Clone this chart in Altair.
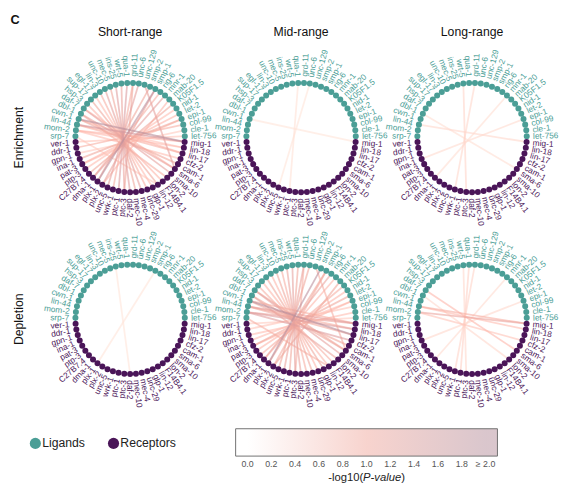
import altair as alt
import pandas as pd

FONT = "Liberation Sans"
TEAL = "#4b9e96"
PURPLE = "#4a1558"
EDGE_COLORS = ["#ffffff", "#f0a89d", "#b58e9b"]

# ---------------- data ----------------
ligands = ["srp-7", "mom-2", "lin-44", "cwn-1", "dbl-1", "daf-7", "hsp-3", "sup-17",
           "egl-17", "lin-3", "unc-10", "mec-5", "ins-25", "wrt-5", "qua-1", "grd-11",
           "unc-6", "unc-129", "smp-2", "smp-1", "rig-6", "mnr-1", "mab-20", "K05F1.5",
           "nid-1", "let-2", "epi-1", "col-99", "cle-1", "let-756"]
receptors = ["mig-1", "lin-18", "lin-17", "cfz-2", "cam-1", "sma-6", "sma-10", "lon-2",
             "F14B4.1", "lin-12", "glp-1", "unc-29", "mec-4", "mec-10", "daf-2", "ptc-3",
             "ptc-1", "wrk-1", "unc-5", "plx-2", "plx-1", "dma-1", "C27B7.4", "ptp-3",
             "pat-3", "ina-1", "gpn-1", "ddr-1", "ver-1"]

ranges = ["Short-range", "Mid-range", "Long-range"]
tests = ["Enrichment", "Depletion"]

pair_ligand = ["lin-44", "lin-44", "lin-44", "mom-2", "mom-2", "cwn-1", "cwn-1", "cwn-1",
               "dbl-1", "dbl-1", "daf-7", "hsp-3", "sup-17", "egl-17", "lin-3", "unc-10",
               "mec-5", "ins-25", "wrt-5", "qua-1", "grd-11", "grd-11", "unc-6", "unc-129",
               "smp-2", "smp-1", "smp-1", "rig-6", "mnr-1", "mab-20", "K05F1.5", "nid-1",
               "let-2", "epi-1", "epi-1", "col-99", "cle-1", "let-756", "srp-7", "mom-2",
               "daf-7"]
pair_receptor = ["mig-1", "lin-17", "lin-18", "mig-1", "cfz-2", "mig-1", "cam-1", "lin-17",
                 "sma-6", "lon-2", "sma-10", "F14B4.1", "lin-12", "glp-1", "unc-29", "mec-4",
                 "mec-10", "daf-2", "ptc-3", "ptc-1", "ptc-3", "wrk-1", "unc-5", "sma-6",
                 "plx-1", "plx-1", "plx-2", "dma-1", "dma-1", "plx-2", "C27B7.4", "ptp-3",
                 "pat-3", "ina-1", "pat-3", "ddr-1", "gpn-1", "ver-1", "lin-12", "lin-18",
                 "sma-6"]

short_enrich = [1.5, 0.9, 0.6, 0.8, 0.7, 2.0, 1.0, 0.8, 1.1, 0.9, 1.2, 0.8, 1.0, 0.7, 0.9, 1.2,
                1.0, 1.3, 1.1, 1.4, 1.0, 0.9, 1.2, 1.2, 1.0, 1.9, 1.1, 0.9, 1.2, 0.8, 1.0, 0.7,
                0.8, 1.0, 0.6, 0.9, 0.5, 0.6, 0.5, 0.7, 0.8]
mid_enrich = [0, 0, 0, 0, 0, 0.1, 0, 0, 0, 0, 0, 0, 0, 0, 0, 0,
              0, 0, 0, 0.15, 0, 0, 0.1, 0, 0, 0, 0, 0, 0, 0, 0, 0,
              0, 0, 0, 0, 0, 0, 0, 0, 0]
long_enrich = [0.3, 0, 0, 0, 0, 0, 0, 0, 0.2, 0, 0, 0, 0, 0, 0, 0,
               0, 0, 0.35, 0, 0, 0.3, 0, 0, 0, 0, 0, 0, 0.2, 0, 0, 0,
               0, 0.25, 0, 0, 0, 0, 0, 0, 0]
short_deplete = [0, 0, 0, 0, 0, 0, 0, 0, 0, 0, 0, 0, 0, 0, 0, 0,
                 0, 0.1, 0, 0, 0, 0, 0, 0, 0, 0.1, 0, 0, 0, 0, 0, 0,
                 0, 0, 0, 0, 0, 0, 0, 0, 0]
mid_deplete = [1.2, 1.0, 0.9, 1.1, 1.3, 0.9, 1.0, 2.0, 1.0, 1.1, 1.2, 0.9, 0.8, 1.0, 0.8, 1.0,
               0.9, 1.1, 1.2, 1.0, 0.9, 1.1, 1.0, 0.9, 1.9, 1.0, 0.9, 1.1, 0.8, 1.0, 0.9, 0.8,
               1.0, 0.7, 0.8, 0.6, 0.7, 0.5, 0.9, 1.3, 1.0]
long_deplete = [0.9, 0, 0.7, 1.1, 0.6, 0, 0, 0, 0, 0.3, 0, 0, 0, 0, 0, 0,
                0, 0, 0.3, 0.4, 0, 0.35, 0, 0, 0, 0, 0, 0, 0.25, 0, 0, 0,
                0, 0.3, 0, 0, 0, 0, 0, 0, 0.8, 0]

legend_labels = ["Ligands", "Receptors"]
cbar_ticks = [0.0, 0.2, 0.4, 0.6, 0.8, 1.0, 1.2, 1.4, 1.6, 1.8, 2.0]
cbar_tick_labels = ["0.0", "0.2", "0.4", "0.6", "0.8", "1.0", "1.2", "1.4", "1.6", "1.8", "\u2265 2.0"]
cbar_title_parts = ["-log10(", "P-value", ")"]

panel_values = {
    ("Enrichment", "Short-range"): short_enrich,
    ("Enrichment", "Mid-range"): mid_enrich,
    ("Enrichment", "Long-range"): long_enrich,
    ("Depletion", "Short-range"): short_deplete,
    ("Depletion", "Mid-range"): mid_deplete,
    ("Depletion", "Long-range"): long_deplete,
}

# ---------------- table ----------------
nodes = ligands + receptors
groups = ["Ligand"] * len(ligands) + ["Receptor"] * len(receptors)
rows = []
for t in tests:
    for r in ranges:
        vals = panel_values[(t, r)]
        edge_rows = []
        for lig, rec, v in zip(pair_ligand, pair_receptor, vals):
            if v > 0:
                edge_rows.append(dict(kind="edge", test=t, range=r, g=ligands.index(lig),
                                      g2=len(ligands) + receptors.index(rec), value=min(v, 2.0),
                                      name="", grp=""))
        edge_rows.sort(key=lambda d: d["value"])
        rows.extend(edge_rows)
        for g, (nm, gr) in enumerate(zip(nodes, groups)):
            rows.append(dict(kind="node", test=t, range=r, g=g, g2=g, value=0, name=nm, grp=gr))
df = pd.DataFrame(rows)

N = len(nodes)
STEP = 360.0 / N
OFFSET = 90 + (len(ligands) - 1) / 2 * STEP
RT = 1.115

W, H = 150, 160
PX = 56.0
xr, yr = W / 2 / PX, H / 2 / PX
xs = alt.Scale(domain=[-xr, xr], nice=False, zero=False)
ys = alt.Scale(domain=[-yr, yr], nice=False, zero=False)
grp_scale = alt.Scale(domain=["Ligand", "Receptor"], range=[TEAL, PURPLE])

base = alt.Chart()

edges = (
    base.transform_filter("datum.kind == 'edge'")
    .transform_calculate(a1=f"({OFFSET} - datum.g*{STEP})*PI/180")
    .transform_calculate(a2=f"({OFFSET} - datum.g2*{STEP})*PI/180")
    .transform_calculate(x1="cos(datum.a1)")
    .transform_calculate(y1="sin(datum.a1)")
    .transform_calculate(x2="cos(datum.a2)")
    .transform_calculate(y2="sin(datum.a2)")
    .mark_rule(strokeWidth=1.8, opacity=0.6)
    .encode(
        x=alt.X("x1:Q", scale=xs, axis=None),
        y=alt.Y("y1:Q", scale=ys, axis=None),
        x2="x2:Q",
        y2="y2:Q",
        stroke=alt.Stroke("value:Q", scale=alt.Scale(domain=[0, 1, 2], range=EDGE_COLORS, clamp=True),
                          legend=None),
    )
)

nodes_base = (
    base.transform_filter("datum.kind == 'node'")
    .transform_calculate(adeg=f"{OFFSET} - datum.g*{STEP}")
    .transform_calculate(a="datum.adeg*PI/180")
    .transform_calculate(x="cos(datum.a)")
    .transform_calculate(y="sin(datum.a)")
    .transform_calculate(xt=f"{RT}*cos(datum.a)")
    .transform_calculate(yt=f"{RT}*sin(datum.a)")
)

dots = nodes_base.mark_circle(size=38, opacity=1).encode(
    x=alt.X("x:Q", scale=xs, axis=None),
    y=alt.Y("y:Q", scale=ys, axis=None),
    color=alt.Color("grp:N", scale=grp_scale, legend=None),
)

text_r = (
    nodes_base.transform_filter("cos(datum.a) >= -0.000001")
    .transform_calculate(ang="((-datum.adeg) % 360 + 360) % 360")
    .mark_text(align="left", baseline="middle", fontSize=8.5, font=FONT)
    .encode(
        x=alt.X("xt:Q", scale=xs, axis=None),
        y=alt.Y("yt:Q", scale=ys, axis=None),
        text="name:N",
        angle=alt.Angle("ang:Q", scale=None),
        color=alt.Color("grp:N", scale=grp_scale, legend=None),
    )
)
text_l = (
    nodes_base.transform_filter("cos(datum.a) < -0.000001")
    .transform_calculate(ang="((180 - datum.adeg) % 360 + 360) % 360")
    .mark_text(align="right", baseline="middle", fontSize=8.5, font=FONT)
    .encode(
        x=alt.X("xt:Q", scale=xs, axis=None),
        y=alt.Y("yt:Q", scale=ys, axis=None),
        text="name:N",
        angle=alt.Angle("ang:Q", scale=None),
        color=alt.Color("grp:N", scale=grp_scale, legend=None),
    )
)

top = (
    alt.layer(edges, dots, text_r, text_l, data=df)
    .properties(width=W, height=H)
    .facet(
        row=alt.Row("test:N", sort=tests, title=None,
                    header=alt.Header(labelAngle=-90, labelOrient="left", labelFontSize=12.5,
                                      labelFont=FONT, labelPadding=26, labelColor="#111")),
        column=alt.Column("range:N", sort=ranges, title=None,
                          header=alt.Header(labelFontSize=12.5, labelFont=FONT, labelPadding=22,
                                            labelColor="#111")),
        spacing={"row": 26, "column": 25},
    )
    .properties(bounds="flush")
)

# ---------------- bottom legend ----------------
leg_df = pd.DataFrame({"name": legend_labels})
leg_x = alt.X("name:N", scale=alt.Scale(type="point", domain=legend_labels, range=[-22, 58], padding=0),
              axis=None)
leg_pts = alt.Chart(leg_df).mark_circle(size=130, opacity=1).encode(
    x=leg_x, y=alt.value(15),
    color=alt.Color("name:N", scale=alt.Scale(domain=legend_labels, range=[TEAL, PURPLE]), legend=None),
)
leg_txt = alt.Chart(leg_df).mark_text(align="left", dx=7, fontSize=12.5, font=FONT, color="#222").encode(
    x=leg_x, y=alt.value(15), text="name:N"
)
legend_chart = alt.layer(leg_pts, leg_txt).properties(width=161, height=28)

CBW, CBH = 268, 28
lo, hi = cbar_ticks[0] - 0.1, cbar_ticks[-1] + 0.1
span = hi - lo
cbx = alt.Scale(domain=[lo, hi], nice=False, zero=False)
grad = alt.LinearGradient(
    gradient="linear", x1=0, x2=1, y1=0, y2=0,
    stops=[
        alt.GradientStop(offset=0, color=EDGE_COLORS[0]),
        alt.GradientStop(offset=(cbar_ticks[0] - lo) / span, color=EDGE_COLORS[0]),
        alt.GradientStop(offset=(1.0 - lo) / span, color=EDGE_COLORS[1]),
        alt.GradientStop(offset=(2.0 - lo) / span, color=EDGE_COLORS[2]),
        alt.GradientStop(offset=1, color=EDGE_COLORS[2]),
    ],
)
frame = alt.Chart(pd.DataFrame({"lo": [lo], "hi": [hi]})).mark_rect(
    fill=grad, fillOpacity=0.5, stroke="#707070", strokeWidth=1
).encode(x=alt.X("lo:Q", scale=cbx, axis=None), x2="hi:Q", y=alt.value(0), y2=alt.value(CBH))
tick_txt = alt.Chart(pd.DataFrame({"v": cbar_ticks, "label": cbar_tick_labels})).mark_text(
    fontSize=9, color="#555", font=FONT, baseline="middle"
).encode(x=alt.X("v:Q", scale=cbx, axis=None), y=alt.value(CBH + 8), text="label:N")

TY = CBH + 22
xa = CBW / 2 - 3.5
t1 = alt.Chart(pd.DataFrame({"t": [cbar_title_parts[0]]})).mark_text(
    align="right", baseline="middle", fontSize=11.5, font=FONT, color="#222"
).encode(x=alt.value(xa), y=alt.value(TY), text="t:N")
t2 = alt.Chart(pd.DataFrame({"t": [cbar_title_parts[1]]})).mark_text(
    align="left", baseline="middle", fontSize=11.5, font=FONT, color="#222", fontStyle="italic"
).encode(x=alt.value(xa), y=alt.value(TY), text="t:N")
t3 = alt.Chart(pd.DataFrame({"t": [cbar_title_parts[2]]})).mark_text(
    align="left", baseline="middle", fontSize=11.5, font=FONT, color="#222"
).encode(x=alt.value(xa + 39), y=alt.value(TY), text="t:N")
cb_chart = alt.layer(frame, tick_txt, t1, t2, t3).properties(width=CBW, height=CBH)

bottom = alt.hconcat(legend_chart, cb_chart, spacing=22).properties(bounds="flush")

chart = (
    alt.vconcat(top, bottom, spacing=20,
                title=alt.Title("C", anchor="start", fontSize=13, fontWeight="bold", font=FONT,
                                dx=-3, offset=-1, color="#111"))
    .properties(padding={"left": 2, "top": 0, "right": 0, "bottom": 0})
    .configure_view(stroke=None)
)

chart.save("out.html", embed_options={"renderer": "svg", "actions": False})
